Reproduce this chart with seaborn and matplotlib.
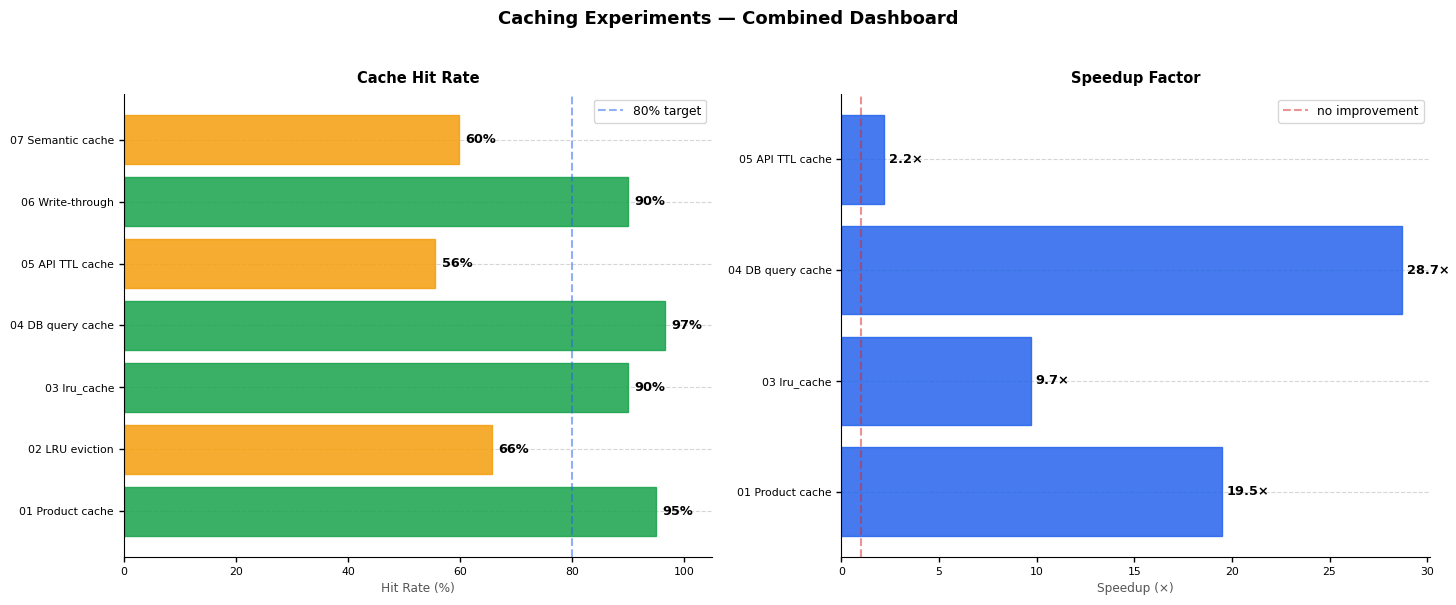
import matplotlib
matplotlib.use("Agg")
import matplotlib.pyplot as plt
import seaborn as sns
import pandas as pd

# hit rate panel
hit_names = ['01 Product cache', '02 LRU eviction', '03 lru_cache', '04 DB query cache',
             '05 API TTL cache', '06 Write-through', '07 Semantic cache']
hit_rates = [95.0, 65.7, 90.0, 96.6, 55.6, 90.0, 59.8]
target = 80

# speedup panel
speed_names = ['01 Product cache', '03 lru_cache', '04 DB query cache', '05 API TTL cache']
speedups = [19.5, 9.7, 28.7, 2.2]

GREEN = '#16a34a'
AMBER = '#f59e0b'
BLUE = '#2563eb'
RED = '#dc2626'

sns.set_style('white')
plt.rcParams['font.family'] = ['DejaVu Sans']
plt.rcParams['text.color'] = 'black'
plt.rcParams['axes.labelcolor'] = 'black'
plt.rcParams['xtick.color'] = 'black'
plt.rcParams['ytick.color'] = 'black'
plt.rcParams['axes.edgecolor'] = 'black'

fig, (ax1, ax2) = plt.subplots(1, 2, figsize=(14.56, 6.05), dpi=100)
fig.subplots_adjust(left=0.085, right=0.982, top=0.845, bottom=0.079, wspace=0.22)


def style_ax(ax, n):
    m = 0.05 * (n - 0.2)
    ax.set_ylim(n - 0.6 + m, -0.4 - m)
    ax.grid(axis='y', linestyle='--', color='#bbbbbb', alpha=0.6, linewidth=0.8)
    ax.grid(axis='x', visible=False)
    ax.set_axisbelow(True)
    ax.set_ylabel('')
    sns.despine(ax=ax)
    ax.tick_params(axis='both', labelsize=7.8, length=3.5, width=1, left=True, bottom=True)


# ---- left: hit rate ----
df_hit = pd.DataFrame({'name': hit_names, 'rate': hit_rates})
df_hit['ok'] = df_hit['rate'] >= target
df_hit = df_hit.iloc[::-1]
sns.barplot(data=df_hit, y='name', x='rate', hue='ok', palette={True: GREEN, False: AMBER},
            order=list(df_hit['name']), dodge=False, legend=False, width=0.8, saturation=1,
            alpha=0.85, linewidth=1, ax=ax1)
for bar in ax1.patches:
    bar.set_edgecolor(bar.get_facecolor())
ax1.axvline(target, color=BLUE, linestyle='--', alpha=0.5, linewidth=1.5, label='80% target')
for i, v in enumerate(df_hit['rate']):
    ax1.text(v + 1.2, i, f'{v:.0f}%', va='center', ha='left', fontsize=9.3, fontweight='bold')
ax1.set_xlim(0, 105)
ax1.set_xlabel('Hit Rate (%)', fontsize=8.7, color='#555555')
ax1.set_title('Cache Hit Rate', fontsize=10.5, fontweight='bold', pad=8)
ax1.legend(loc='upper right', fontsize=8.8)
style_ax(ax1, len(hit_names))

# ---- right: speedup ----
df_sp = pd.DataFrame({'name': speed_names, 'speedup': speedups}).iloc[::-1]
sns.barplot(data=df_sp, y='name', x='speedup', color=BLUE, order=list(df_sp['name']),
            width=0.8, saturation=1, alpha=0.85, linewidth=1, ax=ax2)
for bar in ax2.patches:
    bar.set_edgecolor(bar.get_facecolor())
ax2.axvline(1, color=RED, linestyle='--', alpha=0.5, linewidth=1.5, label='no improvement')
for i, v in enumerate(df_sp['speedup']):
    ax2.text(v + 0.25, i, f'{v:.1f}\u00d7', va='center', ha='left', fontsize=9.3, fontweight='bold')
ax2.set_xlim(0, max(speedups) * 1.05)
ax2.set_xlabel('Speedup (\u00d7)', fontsize=8.7, color='#555555')
ax2.set_title('Speedup Factor', fontsize=10.5, fontweight='bold', pad=8)
ax2.legend(loc='upper right', fontsize=8.8)
style_ax(ax2, len(speed_names))

fig.suptitle('Caching Experiments \u2014 Combined Dashboard', fontsize=13, fontweight='bold', y=0.983)

fig.savefig('out.png', dpi=100)
